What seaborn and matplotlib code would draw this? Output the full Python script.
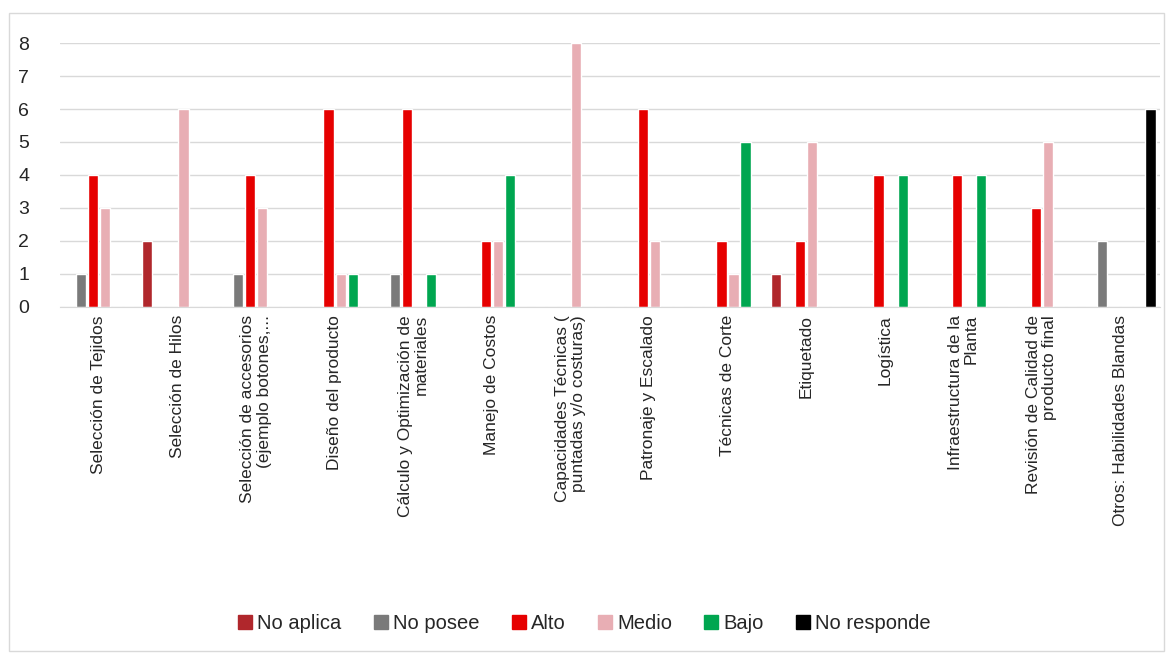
import matplotlib
matplotlib.use("Agg")
import matplotlib.pyplot as plt
import matplotlib.patches as mpatches
import pandas as pd
import seaborn as sns

categories = [
    "Selección de Tejidos",
    "Selección de Hilos",
    "Selección de accesorios\n(ejemplo botones,...",
    "Diseño del producto",
    "Cálculo y Optimización de\nmateriales",
    "Manejo de Costos",
    "Capacidades Técnicas (\npuntadas y/o costuras)",
    "Patronaje y Escalado",
    "Técnicas de Corte",
    "Etiquetado",
    "Logística",
    "Infraestructura de la\nPlanta",
    "Revisión de Calidad de\nproducto final",
    "Otros: Habilidades Blandas",
]
series = ["No aplica", "No posee", "Alto", "Medio", "Bajo", "No responde"]

no_aplica   = [0, 2, 0, 0, 0, 0, 0, 0, 0, 1, 0, 0, 0, 0]
no_posee    = [1, 0, 1, 0, 1, 0, 0, 0, 0, 0, 0, 0, 0, 2]
alto        = [4, 0, 4, 6, 6, 2, 0, 6, 2, 2, 4, 4, 3, 0]
medio       = [3, 6, 3, 1, 0, 2, 8, 2, 1, 5, 0, 0, 5, 0]
bajo        = [0, 0, 0, 1, 1, 4, 0, 0, 5, 0, 4, 4, 0, 0]
no_responde = [0, 0, 0, 0, 0, 0, 0, 0, 0, 0, 0, 0, 0, 6]

colors = ["#B0272C", "#7A7A7A", "#E60000", "#E8AEB4", "#00A650", "#000000"]

rows = []
for name, vals in zip(series, [no_aplica, no_posee, alto, medio, bajo, no_responde]):
    for cat, v in zip(categories, vals):
        rows.append({"cat": cat, "serie": name, "valor": v})
df = pd.DataFrame(rows)

sns.set_style("white")
plt.rcParams["font.family"] = ["Liberation Sans", "DejaVu Sans"]

fig = plt.figure(figsize=(11.69, 6.54), dpi=100)
ax = fig.add_axes([0.051, 0.531, 0.941, 0.403])

sns.barplot(data=df, x="cat", y="valor", hue="serie", order=categories,
            hue_order=series, palette=colors, width=0.92, gap=0.15,
            ax=ax, legend=False, saturation=1)

ax.set_ylim(0, 8)
ax.set_yticks(range(0, 9))
ax.set_xlim(-0.5, len(categories) - 0.5)
ax.yaxis.grid(True, color="#D9D9D9", linewidth=1)
ax.set_axisbelow(True)
for s in ["top", "right", "left"]:
    ax.spines[s].set_visible(False)
ax.spines["bottom"].set_color("#D9D9D9")
ax.set_xlabel("")
ax.set_ylabel("")
ax.tick_params(axis="y", length=0, labelsize=14, pad=22)
ax.tick_params(axis="x", length=0, pad=6)
ax.set_xticks(range(len(categories)))
ax.set_xticklabels(categories, rotation=90, fontsize=12.5, va="top",
                   ha="center", multialignment="right", linespacing=1.1)

handles = [mpatches.Patch(color=c, label=s) for s, c in zip(series, colors)]
fig.legend(handles=handles, loc="center", bbox_to_anchor=(0.5, 0.046), ncol=6,
           frameon=False, fontsize=14.5, handlelength=0.7, handleheight=0.7,
           handletextpad=0.25, columnspacing=1.6)

fig.add_artist(mpatches.Rectangle((0.008, 0.005), 0.988, 0.975,
                                  transform=fig.transFigure, fill=False,
                                  edgecolor="#D9D9D9", linewidth=1))

fig.savefig("out.png", dpi=100)
